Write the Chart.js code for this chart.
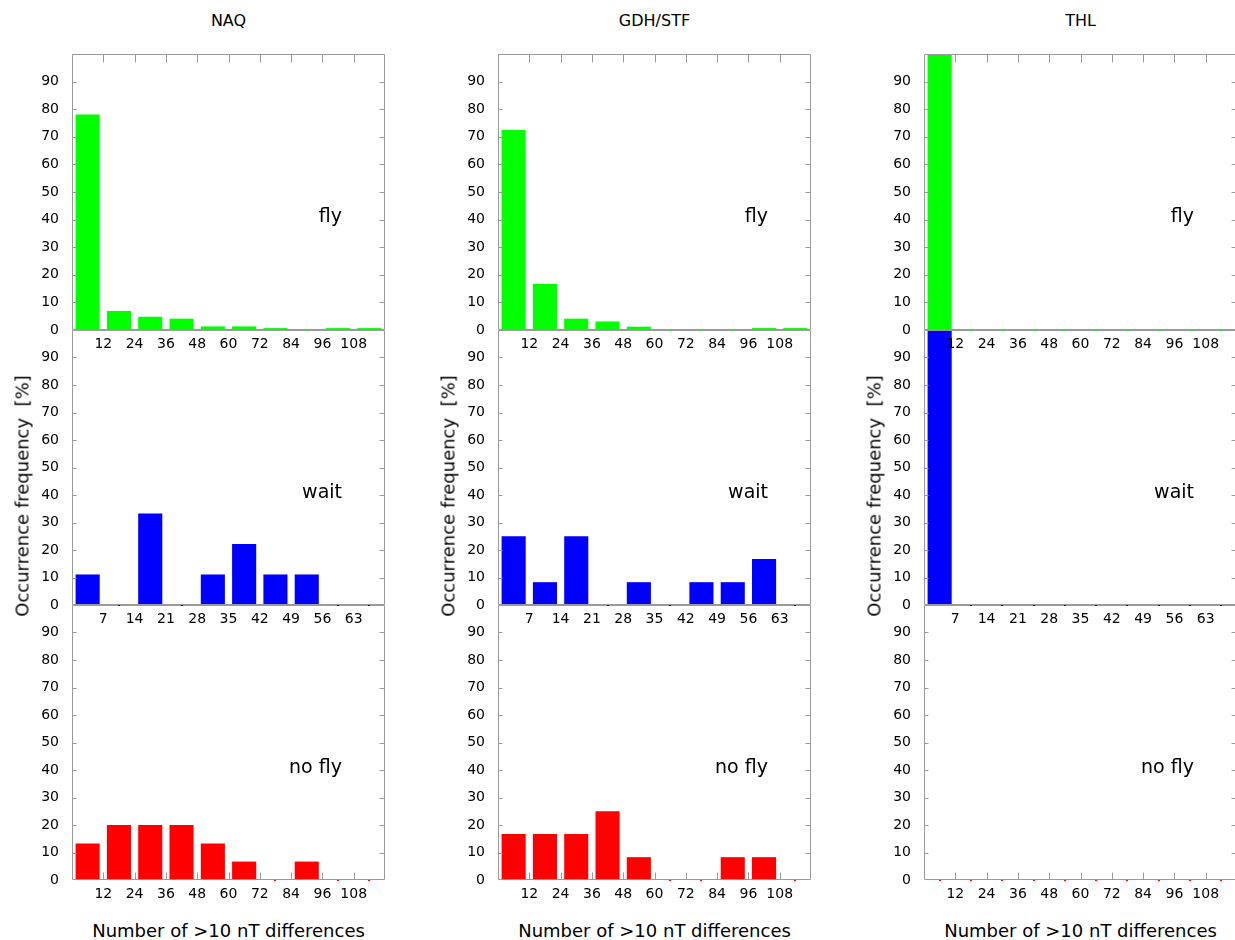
<!DOCTYPE html>
<html>
<head>
<meta charset="utf-8">
<script src="https://cdn.jsdelivr.net/npm/chart.js@4/dist/chart.umd.min.js"></script>
<style>
  html, body { margin: 0; padding: 0; background: #fff; overflow: hidden; }
  #fig { position: relative; width: 1235px; height: 940px; overflow: hidden; font-family: "DejaVu Sans", sans-serif; color: #000; }
  #fig canvas { position: absolute; }
  .lbl { position: absolute; white-space: pre; transform: translate(-50%, -50%); }
  .ytitle { transform: translate(-50%, -50%) rotate(-90deg); }
</style>
</head>
<body>
<div id="fig"></div>
<script>
// data (percent per bin)
const stations = ['NAQ', 'GDH/STF', 'THL'];
const panelNames = ['fly', 'wait', 'no fly'];
const panelColors = ['#00ff00', '#0000ff', '#ff0000'];

const flyBins = ['0-12', '12-24', '24-36', '36-48', '48-60', '60-72', '72-84', '84-96', '96-108', '108-120'];
const waitBins = ['0-7', '7-14', '14-21', '21-28', '28-35', '35-42', '42-49', '49-56', '56-63', '63-70'];
const flyTicks = [12, 24, 36, 48, 60, 72, 84, 96, 108];
const waitTicks = [7, 14, 21, 28, 35, 42, 49, 56, 63];
const yTicks = [0, 10, 20, 30, 40, 50, 60, 70, 80, 90];

const naqFly = [78.1, 6.9, 4.8, 4.1, 1.3, 1.3, 0.7, 0, 0.7, 0.7];
const naqWait = [11.1, 0, 33.3, 0, 11.1, 22.2, 11.1, 11.1, 0, 0];
const naqNoFly = [13.3, 20, 20, 20, 13.3, 6.7, 0, 6.7, 0, 0];

const gdhFly = [72.5, 16.7, 4.1, 3.1, 1.2, 0, 0, 0, 0.7, 0.7];
const gdhWait = [25, 8.3, 25, 0, 8.3, 0, 8.3, 8.3, 16.7, 0];
const gdhNoFly = [16.7, 16.7, 16.7, 25, 8.3, 0, 0, 8.3, 8.3, 0];

const thlFly = [100, 0, 0, 0, 0, 0, 0, 0, 0, 0];
const thlWait = [100, 0, 0, 0, 0, 0, 0, 0, 0, 0];
const thlNoFly = [0, 0, 0, 0, 0, 0, 0, 0, 0, 0];

const series = [
  [naqFly, naqWait, naqNoFly],
  [gdhFly, gdhWait, gdhNoFly],
  [thlFly, thlWait, thlNoFly],
];

// layout
const plotLefts = [72, 498, 924];
const plotTops = [54, 330, 605];
const plotHeights = [276, 275, 275];
const plotW = 313;
const axisW = 60, padTop = 6, padRight = 6, axisH = 30;
const frameColor = '#9a9a9a';

const fig = document.getElementById('fig');

// frame, inward ticks, zero markers and the panel name
const panelDeco = {
  id: 'panelDeco',
  afterDatasetsDraw(chart, args, o) {
    const { ctx, chartArea: a } = chart;
    const ys = chart.scales.y, xs = chart.scales.xt;
    ctx.save();

    // empty bins show as a small dot on the zero line
    const vals = chart.data.datasets[0].data;
    ctx.fillStyle = o.color;
    chart.getDatasetMeta(0).data.forEach((bar, i) => {
      if (vals[i] === 0) ctx.fillRect(Math.round(bar.x) - 1, a.bottom - 1, 2, 2);
    });

    ctx.strokeStyle = frameColor;
    ctx.lineWidth = 1;
    ctx.beginPath();
    const L = a.left + 0.5, R = a.right - 0.5, T = a.top + 0.5, B = a.bottom - 0.5;
    ctx.rect(L, T, R - L, B - T);
    ys.ticks.forEach(t => {
      if (t.value === 0) return;
      const y = Math.round(ys.getPixelForValue(t.value)) + 0.5;
      ctx.moveTo(L, y); ctx.lineTo(L + 4, y);
      ctx.moveTo(R, y); ctx.lineTo(R - 5, y);
    });
    xs.ticks.forEach(t => {
      const x = Math.round(xs.getPixelForValue(t.value)) + 0.5;
      if (o.topTicks) { ctx.moveTo(x, T); ctx.lineTo(x, T + 8); }
      if (o.bottomTicks) { ctx.moveTo(x, B); ctx.lineTo(x, B - 7); }
    });
    ctx.stroke();

    ctx.fillStyle = '#000';
    ctx.font = '19px "DejaVu Sans"';
    ctx.textAlign = 'right';
    ctx.textBaseline = 'alphabetic';
    ctx.fillText(o.text, a.right - 43, ys.getPixelForValue(39));
    ctx.restore();
  }
};

const tickFont = { family: '"DejaVu Sans"', size: 14 };

stations.forEach((st, c) => {
  panelNames.forEach((name, r) => {
    const isWait = r === 1;
    const bins = isWait ? waitBins : flyBins;
    const ticks = isWait ? waitTicks : flyTicks;
    const xMax = isWait ? 70 : 120;

    const cv = document.createElement('canvas');
    const w = axisW + plotW + padRight, h = padTop + plotHeights[r] + axisH;
    cv.width = w; cv.height = h;
    cv.style.width = w + 'px'; cv.style.height = h + 'px';
    cv.style.left = (plotLefts[c] - axisW) + 'px';
    cv.style.top = (plotTops[r] - padTop) + 'px';
    cv.style.zIndex = 5 - r;
    fig.appendChild(cv);

    new Chart(cv, {
      type: 'bar',
      data: {
        labels: bins,
        datasets: [{
          data: series[c][r],
          backgroundColor: panelColors[r],
          borderWidth: 0,
          barPercentage: 0.77,
          categoryPercentage: 1,
        }]
      },
      options: {
        responsive: false,
        devicePixelRatio: 1,
        animation: false,
        layout: { padding: { top: padTop, right: padRight, left: 0, bottom: 0 } },
        plugins: {
          legend: { display: false },
          tooltip: { enabled: false },
          panelDeco: { text: name, color: panelColors[r], topTicks: r === 0, bottomTicks: r === 2 },
        },
        scales: {
          x: { display: false, offset: true },
          xt: {
            type: 'linear', position: 'bottom', min: 0, max: xMax, offset: false,
            grid: { display: false, drawTicks: false, offset: false },
            border: { display: false },
            afterBuildTicks: s => { s.ticks = ticks.map(v => ({ value: v })); },
            afterFit: s => { s.height = axisH; s.paddingLeft = 0; s.paddingRight = 0; },
            ticks: { font: tickFont, color: '#000', padding: 6, maxRotation: 0, autoSkip: false },
          },
          y: {
            min: 0, max: 100,
            grid: { display: false, drawTicks: false },
            border: { display: false },
            afterBuildTicks: s => { s.ticks = yTicks.map(v => ({ value: v })); },
            afterFit: s => { s.width = axisW; s.paddingTop = 0; s.paddingBottom = 0; },
            ticks: { font: tickFont, color: '#000', padding: 13 },
          }
        }
      },
      plugins: [panelDeco]
    });
  });

  const cx = plotLefts[c] + plotW / 2;
  const addLabel = (text, x, y, size, cls) => {
    const d = document.createElement('div');
    d.className = 'lbl' + (cls ? ' ' + cls : '');
    d.textContent = text;
    d.style.left = x + 'px';
    d.style.top = y + 'px';
    d.style.fontSize = size + 'px';
    d.style.zIndex = 10;
    fig.appendChild(d);
  };
  addLabel(st, cx, 20, 16);
  addLabel('Occurrence frequency  [%]', plotLefts[c] - 50, 496, 18, 'ytitle');
  addLabel('Number of >10 nT differences', cx, 930, 18);
});
</script>
</body>
</html>
